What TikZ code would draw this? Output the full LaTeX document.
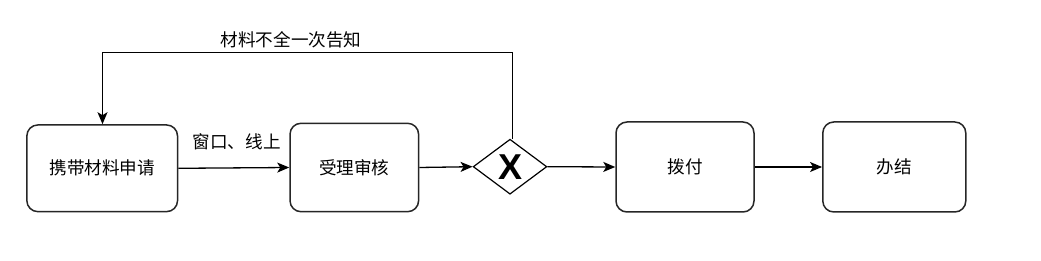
\documentclass[tikz,border=0pt]{standalone}
\usepackage{fontspec}
\newfontfamily\cjk{Noto Sans CJK SC}
\newfontfamily\xfont{Liberation Sans}
\usetikzlibrary{shapes.geometric,arrows.meta}
\begin{document}
\begin{tikzpicture}[x=1pt,y=-1pt,
  stepbox/.style={draw=black!85, line width=1.5pt, rounded corners=11pt, inner sep=0pt, fill=white},
  gate/.style={draw=black, line width=1.2pt, shape=diamond, inner sep=0pt, minimum width=73.7pt, minimum height=55pt, aspect=1.34},
  conn/.style={line width=1.3pt, draw=black, -{Stealth[length=12pt,width=10pt,inset=3pt]}},
  lbl/.style={font=\cjk\fontsize{17.6}{20}\selectfont, inner sep=0pt}
]
\useasboundingbox (0,0) rectangle (1041,261);
\node[stepbox, minimum width=150.7pt, minimum height=86.7pt] (a) at (102.2,168.3) {};
\node[lbl] at (a.center) {携带材料申请};
\node[stepbox, minimum width=128.6pt, minimum height=88.4pt] (b) at (354.3,167.5) {};
\node[lbl] at (b.center) {受理审核};
\node[gate] (g) at (510,166.7) {};
\node[font=\xfont\bfseries\fontsize{36}{40}\selectfont, inner sep=0pt] at (510,166.7) {X};
\node[stepbox, minimum width=138pt, minimum height=90pt] (c) at (685,167) {};
\node[lbl] at (c.center) {拨付};
\node[stepbox, minimum width=143pt, minimum height=90pt] (d) at (894.3,167) {};
\node[lbl] at (d.center) {办结};

\draw[conn] (a.east) -- (b.west);
\node[lbl] at (236.6,141.7) {窗口、线上};
\draw[conn] (b.east) -- (g.west);
\draw[conn] (g.east) -- (c.west);
\draw[conn] (c.east) -- (d.west);
\coordinate (t1) at (512.5,52.7);
\coordinate (t2) at (102.5,52.7);
\draw[conn] (g.north -| t1) -- (t1) -- (t2) -- (t2 |- a.north);
\node[lbl] at (291,39.3) {材料不全一次告知};
\end{tikzpicture}
\end{document}
